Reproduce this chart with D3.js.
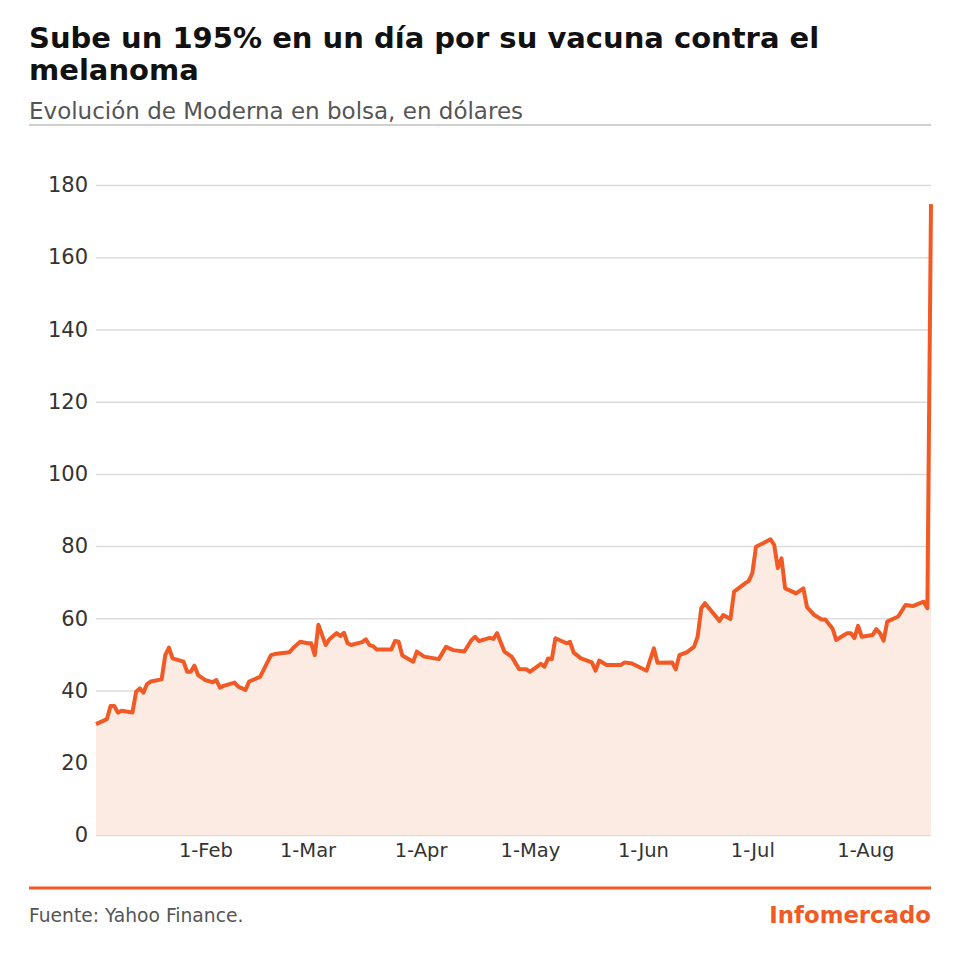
<!DOCTYPE html>
<html>
<head>
<meta charset="utf-8">
<script src="https://cdn.jsdelivr.net/npm/d3@7"></script>
<style>
  body { margin: 0; background: #fff; font-family: "DejaVu Sans", sans-serif; }
</style>
</head>
<body>
<svg width="960" height="960"></svg>
<script>
// Moderna close price, USD
var dates = [
  "2023-01-02","2023-01-05","2023-01-06","2023-01-07","2023-01-08","2023-01-09","2023-01-12","2023-01-13",
  "2023-01-14","2023-01-15","2023-01-16","2023-01-17","2023-01-20","2023-01-21","2023-01-22","2023-01-23",
  "2023-01-26","2023-01-27","2023-01-28","2023-01-29","2023-01-30","2023-02-01","2023-02-03","2023-02-04",
  "2023-02-05","2023-02-06","2023-02-09","2023-02-10","2023-02-12","2023-02-13","2023-02-16","2023-02-19",
  "2023-02-20","2023-02-24","2023-02-25","2023-02-27","2023-03-01","2023-03-02","2023-03-03","2023-03-04",
  "2023-03-05","2023-03-06","2023-03-07","2023-03-09","2023-03-10","2023-03-11","2023-03-12","2023-03-13",
  "2023-03-16","2023-03-17","2023-03-18","2023-03-19","2023-03-20","2023-03-24","2023-03-25","2023-03-26",
  "2023-03-27","2023-03-30","2023-03-31","2023-04-02","2023-04-06","2023-04-08","2023-04-10","2023-04-13",
  "2023-04-15","2023-04-16","2023-04-17","2023-04-20","2023-04-21","2023-04-22","2023-04-24","2023-04-26",
  "2023-04-28","2023-04-30","2023-05-01","2023-05-04","2023-05-05","2023-05-06","2023-05-07","2023-05-08",
  "2023-05-11","2023-05-12","2023-05-13","2023-05-15","2023-05-18","2023-05-19","2023-05-20","2023-05-22",
  "2023-05-26","2023-05-27","2023-05-29","2023-06-02","2023-06-04","2023-06-05","2023-06-09","2023-06-10",
  "2023-06-11","2023-06-13","2023-06-15","2023-06-16","2023-06-17","2023-06-18","2023-06-22","2023-06-23",
  "2023-06-25","2023-06-26","2023-06-29","2023-06-30","2023-07-01","2023-07-02","2023-07-06","2023-07-07",
  "2023-07-08","2023-07-09","2023-07-10","2023-07-13","2023-07-15","2023-07-16","2023-07-18","2023-07-20",
  "2023-07-21","2023-07-23","2023-07-24","2023-07-27","2023-07-28","2023-07-29","2023-07-30","2023-07-31",
  "2023-08-03","2023-08-04","2023-08-05","2023-08-06","2023-08-07","2023-08-10","2023-08-12","2023-08-14",
  "2023-08-17","2023-08-18","2023-08-19"
];
var prices = [
  30.7, 32.1, 35.7, 35.7, 33.9, 34.4, 33.9, 39.7,
  40.6, 39.4, 41.8, 42.5, 43.1, 49.8, 51.9, 48.9,
  48.0, 45.2, 45.2, 46.9, 44.3, 42.9, 42.3, 42.9,
  40.8, 41.3, 42.2, 41.1, 40.2, 42.5, 43.8, 49.8,
  50.1, 50.6, 51.7, 53.5, 53.1, 53.1, 49.8, 58.2,
  55.4, 52.6, 54.2, 55.9, 55.1, 56.0, 53.1, 52.6,
  53.4, 54.2, 52.6, 52.3, 51.4, 51.4, 53.7, 53.5,
  49.7, 48.0, 50.8, 49.4, 48.7, 52.1, 51.2, 50.8,
  54.0, 54.9, 53.7, 54.6, 54.3, 55.9, 50.8, 49.4,
  46.0, 45.9, 45.2, 47.4, 46.6, 48.9, 48.7, 54.5,
  53.1, 53.5, 50.5, 48.9, 47.8, 45.5, 48.3, 47.1,
  47.1, 47.8, 47.5, 45.5, 51.7, 47.7, 47.8, 45.9,
  49.8, 50.6, 52.1, 54.9, 62.8, 64.2, 59.3, 60.9,
  59.8, 67.4, 69.7, 70.3, 72.5, 79.8, 81.9, 80.3,
  73.9, 76.6, 68.3, 66.9, 68.3, 63.1, 60.9, 59.7,
  59.7, 57.2, 54.0, 55.9, 55.9, 54.5, 57.9, 54.9,
  55.4, 57.0, 55.9, 53.8, 59.1, 60.5, 63.7, 63.4,
  64.6, 62.8, 174.7
];
var yTicks = [0, 20, 40, 60, 80, 100, 120, 140, 160, 180];
var xTicks = ["2023-02-01","2023-03-01","2023-04-01","2023-05-01","2023-06-01","2023-07-01","2023-08-01"];

var parse = d3.timeParse("%Y-%m-%d");
var data = dates.map(function(d, i) { return { date: parse(d), value: prices[i] }; });

var svg = d3.select("svg");
var orange = "#f15a24";
var plotLeft = 96, plotRight = 931, plotTop = 185, plotBottom = 835;

// header
svg.append("text").attr("x", 29).attr("y", 48)
    .attr("font-size", 29).attr("font-weight", "bold").attr("fill", "#111")
    .text("Sube un 195% en un día por su vacuna contra el");
svg.append("text").attr("x", 29).attr("y", 80)
    .attr("font-size", 29).attr("font-weight", "bold").attr("fill", "#111")
    .text("melanoma");
svg.append("text").attr("x", 29).attr("y", 119)
    .attr("font-size", 23).attr("fill", "#555")
    .text("Evolución de Moderna en bolsa, en dólares");
svg.append("line").attr("x1", 29).attr("x2", 931).attr("y1", 125).attr("y2", 125)
    .attr("stroke", "#d0d0d0").attr("stroke-width", 2);

var x = d3.scaleTime()
    .domain([parse("2023-01-02"), parse("2023-08-19")])
    .range([plotLeft, plotRight]);
var y = d3.scaleLinear().domain([0, 180]).range([plotBottom, plotTop]);

// grid + y labels
var yAxis = svg.append("g")
    .attr("transform", "translate(" + plotLeft + ",0)")
    .call(d3.axisLeft(y).tickValues(yTicks).tickSize(-(plotRight - plotLeft)).tickPadding(8));
yAxis.select(".domain").remove();
yAxis.selectAll(".tick line").attr("stroke", "#dcdcdc").attr("stroke-width", 1.5);
yAxis.selectAll(".tick text").attr("font-size", 21).attr("fill", "#333")
    .attr("font-family", "DejaVu Sans");

var area = d3.area()
    .x(function(d) { return x(d.date); })
    .y0(y(0))
    .y1(function(d) { return y(d.value); });
var line = d3.line()
    .x(function(d) { return x(d.date); })
    .y(function(d) { return y(d.value); });

svg.append("path").datum(data).attr("d", area).attr("fill", "#fcebe2");
svg.append("path").datum(data).attr("d", line)
    .attr("fill", "none").attr("stroke", orange).attr("stroke-width", 4)
    .attr("stroke-linejoin", "round");

// x labels
var xAxis = svg.append("g")
    .attr("transform", "translate(0," + plotBottom + ")")
    .call(d3.axisBottom(x).tickValues(xTicks.map(parse))
        .tickFormat(d3.timeFormat("1-%b")).tickSize(0).tickPadding(8));
xAxis.select(".domain").remove();
xAxis.selectAll(".tick text").attr("font-size", 19.5).attr("fill", "#333")
    .attr("font-family", "DejaVu Sans");

// footer
svg.append("line").attr("x1", 29).attr("x2", 931).attr("y1", 888).attr("y2", 888)
    .attr("stroke", orange).attr("stroke-width", 3);
svg.append("text").attr("x", 29).attr("y", 922)
    .attr("font-size", 18.7).attr("fill", "#555")
    .text("Fuente: Yahoo Finance.");
svg.append("text").attr("x", 931).attr("y", 923).attr("text-anchor", "end")
    .attr("font-size", 22.8).attr("font-weight", "bold").attr("fill", orange)
    .text("Infomercado");
</script>
</body>
</html>
